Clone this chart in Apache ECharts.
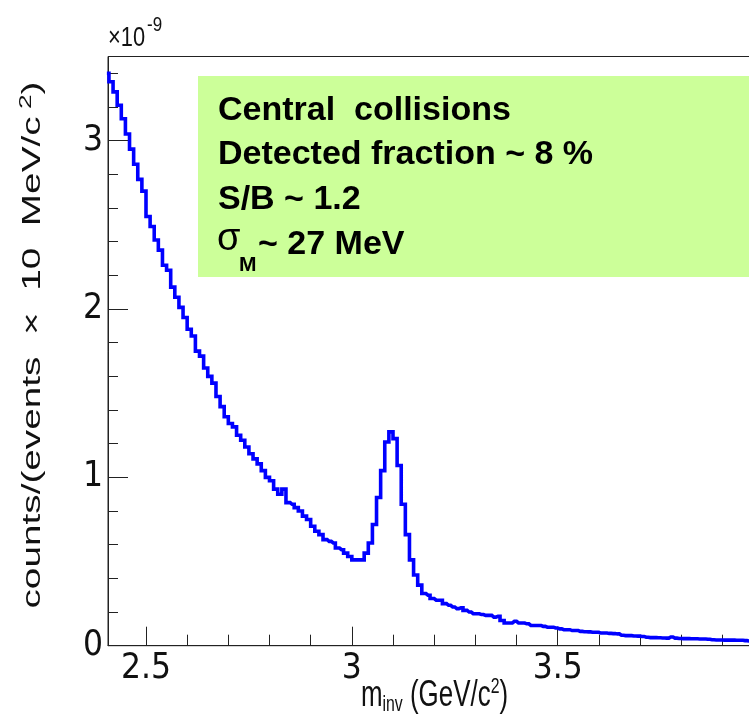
<!DOCTYPE html>
<html><head><meta charset="utf-8">
<script src="https://cdn.jsdelivr.net/npm/echarts@6/dist/echarts.min.js"></script>
<style>html,body{margin:0;padding:0;background:#fff}#c{width:749px;height:721px}</style>
</head><body><div id="c"></div>
<script>
// ---- data (units of 1e-9 counts/(events x 10 MeV/c^2)) ----
const binStart = 2.40;   // lower edge of first bin (GeV/c^2)
const binWidth = 0.01;   // 10 MeV bins
const counts = [
  3.40, 3.35, 3.29, 3.21, 3.13, 3.04, 2.95, 2.86, 2.77, 2.70,
  2.55, 2.49, 2.41, 2.35, 2.26, 2.23, 2.13, 2.07, 2.01, 1.95,
  1.88, 1.84, 1.75, 1.72, 1.65, 1.60, 1.56, 1.48, 1.42, 1.36,
  1.32, 1.30, 1.25, 1.22, 1.18, 1.14, 1.11, 1.08, 1.04, 1.00,
  0.98, 0.93, 0.90, 0.93, 0.85, 0.84, 0.82, 0.80, 0.77, 0.75,
  0.71, 0.68, 0.66, 0.63, 0.62, 0.61, 0.58, 0.57, 0.55, 0.53,
  0.51, 0.51, 0.51, 0.55, 0.61, 0.72, 0.88, 1.04, 1.21, 1.27,
  1.23, 1.07, 0.84, 0.66, 0.51, 0.42, 0.36, 0.31, 0.30, 0.28,
  0.27, 0.27, 0.25, 0.24, 0.23, 0.22, 0.225, 0.21, 0.20, 0.19,
  0.19, 0.185, 0.18, 0.18, 0.17, 0.175, 0.15, 0.135, 0.135, 0.145,
  0.135, 0.135, 0.13, 0.12, 0.12, 0.12, 0.115, 0.11, 0.11, 0.105,
  0.10, 0.095, 0.095, 0.09, 0.09, 0.085, 0.083, 0.082, 0.08, 0.08,
  0.075, 0.075, 0.073, 0.072, 0.07, 0.062, 0.06, 0.06, 0.058, 0.057,
  0.055, 0.05, 0.048, 0.048, 0.047, 0.046, 0.045, 0.052, 0.045, 0.043,
  0.042, 0.042, 0.041, 0.041, 0.040, 0.040, 0.038, 0.035, 0.034, 0.034,
  0.033, 0.033, 0.033, 0.032, 0.032, 0.030, 0.028, 0.027, 0.026, 0.025
];
const xMajorTicks = [2.5, 3.0, 3.5, 4.0];
const xTickLabels = [2.5, 3.0, 3.5];
const xMinorTicks = [2.6, 2.7, 2.8, 2.9, 3.1, 3.2, 3.3, 3.4, 3.6, 3.7, 3.8, 3.9];
const yMajorTicks = [0, 1, 2, 3];
const yTickLabels = [0, 1, 2, 3];
const yMinorTicks = [0.2, 0.4, 0.6, 0.8, 1.2, 1.4, 1.6, 1.8, 2.2, 2.4, 2.6, 2.8, 3.2, 3.4];
const boxLines = ['Central  collisions', 'Detected fraction ~ 8 %', 'S/B ~ 1.2'];

// ---- chart ----
const NARROW = '"Liberation Sans Narrow", "Arial Narrow", "DejaVu Sans Condensed", sans-serif';
const SANS = '"Liberation Sans", Arial, Helvetica, sans-serif';
const AX = '#222';

const seriesData = counts.map((v, i) => [binStart + (i + 0.5) * binWidth, v]);

const chart = echarts.init(document.getElementById('c'), null, {renderer: 'canvas'});

const boxTexts = boxLines.map((t, i) => ({
  type: 'text', x: 218, y: [111, 155, 200][i], z: 20,
  style: {text: t, font: 'bold 34px ' + SANS, fill: '#000',
          align: 'left', verticalAlign: 'middle', textAlign: 'left', textVerticalAlign: 'middle'}
}));

chart.setOption({
  animation: false,
  backgroundColor: '#fff',
  grid: {left: 108, top: 56.5, width: 655.5, height: 589.2, show: true,
         outerBoundsMode: 'none', containLabel: false,
         borderColor: AX, borderWidth: 1, backgroundColor: 'transparent'},
  xAxis: [
    {type: 'value', min: 2.4077, max: 4.0, position: 'bottom',
     axisLine: {show: true, lineStyle: {color: AX, width: 1}},
     axisTick: {show: true, inside: true, length: 19, customValues: xMajorTicks, lineStyle: {color: AX, width: 1}},
     axisLabel: {show: true, customValues: xTickLabels, margin: 6, fontSize: 35, fontFamily: NARROW, color: '#111',
                 formatter: v => String(+v.toFixed(1)).replace(/\.0$/, '')},
     splitLine: {show: false}},
    {type: 'value', min: 2.4077, max: 4.0, position: 'bottom',
     axisLine: {show: false},
     axisTick: {show: true, inside: true, length: 11, customValues: xMinorTicks, lineStyle: {color: AX, width: 1}},
     axisLabel: {show: false}, splitLine: {show: false}}
  ],
  yAxis: [
    {type: 'value', min: 0, max: 3.5, position: 'left',
     axisLine: {show: true, lineStyle: {color: AX, width: 1}},
     axisTick: {show: true, inside: true, length: 20, customValues: yMajorTicks, lineStyle: {color: AX, width: 1}},
     axisLabel: {show: true, customValues: yTickLabels, margin: 5, fontSize: 35, fontFamily: NARROW, color: '#111'},
     splitLine: {show: false}},
    {type: 'value', min: 0, max: 3.5, position: 'left',
     axisLine: {show: false},
     axisTick: {show: true, inside: true, length: 10, customValues: yMinorTicks, lineStyle: {color: AX, width: 1}},
     axisLabel: {show: false}, splitLine: {show: false}}
  ],
  series: [{
    type: 'line', xAxisIndex: 0, yAxisIndex: 0, step: 'middle', showSymbol: false, symbol: 'none',
    clip: true, data: seriesData,
    lineStyle: {color: '#0000ff', width: 3.6, join: 'miter'}
  }],
  graphic: [
    {type: 'rect', shape: {x: 198, y: 76, width: 570, height: 201}, style: {fill: '#ccff99'}, z: 10},
    ...boxTexts,
    {type: 'text', x: 217, y: 240, z: 20,
     style: {text: 'σ', font: '38px ' + SANS, fill: '#000', align: 'left', verticalAlign: 'middle', textAlign: 'left', textVerticalAlign: 'middle'}},
    {type: 'text', x: 239, y: 265, z: 20,
     style: {text: 'M', font: 'bold 21px ' + SANS, fill: '#000', align: 'left', verticalAlign: 'middle', textAlign: 'left', textVerticalAlign: 'middle'}},
    {type: 'text', x: 258, y: 245, z: 20,
     style: {text: '~ 27 MeV', font: 'bold 34px ' + SANS, fill: '#000', align: 'left', verticalAlign: 'middle', textAlign: 'left', textVerticalAlign: 'middle'}},
    // exponent label
    {type: 'text', x: 108, y: 38, scaleX: 0.78, z: 20,
     style: {text: '×10', font: '28px ' + SANS, fill: '#111', align: 'left', verticalAlign: 'middle', textAlign: 'left', textVerticalAlign: 'middle'}},
    {type: 'text', x: 147, y: 25, scaleX: 0.85, z: 20,
     style: {text: '-9', font: '20px ' + SANS, fill: '#111', align: 'left', verticalAlign: 'middle', textAlign: 'left', textVerticalAlign: 'middle'}},
    // x axis title
    {type: 'text', x: 434.5, y: 696, scaleX: 0.72, z: 20,
     style: {text: '{a|m}{b|inv}{a| (GeV/c}{s|2}{a|)}', fill: '#111',
             align: 'center', verticalAlign: 'middle', textAlign: 'center', textVerticalAlign: 'middle',
             rich: {
               a: {fontSize: 36, fontFamily: SANS, lineHeight: 40, verticalAlign: 'middle', fill: '#111', color: '#111'},
               b: {fontSize: 22, fontFamily: SANS, lineHeight: 8, verticalAlign: 'bottom', fill: '#111', color: '#111'},
               s: {fontSize: 22, fontFamily: SANS, lineHeight: 10, verticalAlign: 'top', fill: '#111', color: '#111'}
             }}},
    // y axis title
    {type: 'text', x: 33, y: 345, rotation: Math.PI / 2, scaleX: 1.55, z: 20,
     style: {text: '{a|counts/(events  ×  10  MeV/c}{s| 2}{a|)}', fill: '#111',
             align: 'center', verticalAlign: 'middle', textAlign: 'center', textVerticalAlign: 'middle',
             rich: {
               a: {fontSize: 25, fontFamily: SANS, lineHeight: 30, verticalAlign: 'middle', fill: '#111', color: '#111'},
               s: {fontSize: 17, fontFamily: SANS, lineHeight: 8, verticalAlign: 'top', fill: '#111', color: '#111'}
             }}}
  ]
});
</script></body></html>
